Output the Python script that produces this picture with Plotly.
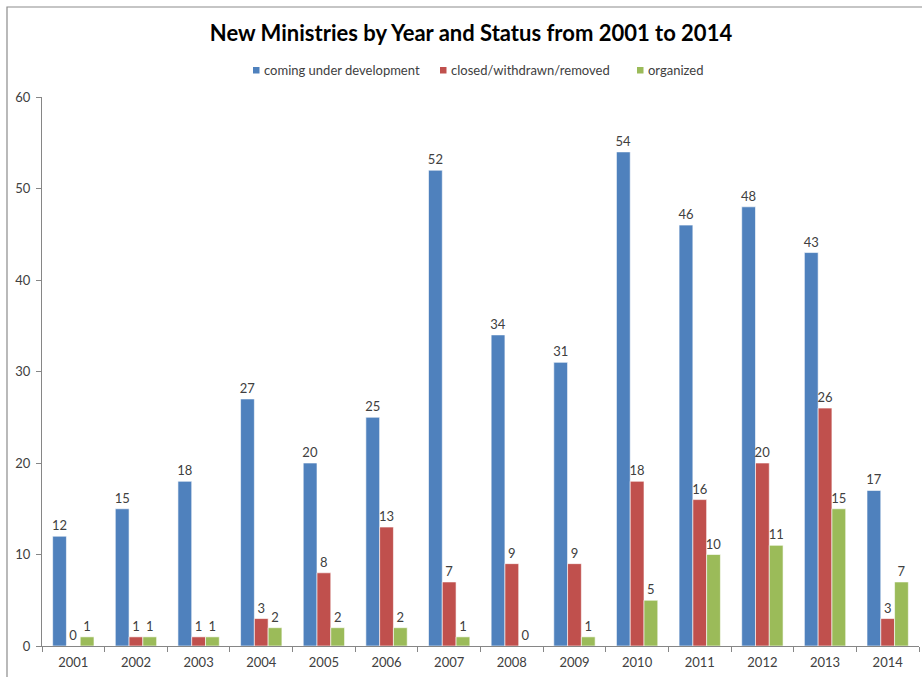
import plotly.graph_objects as go

years = ["2001", "2002", "2003", "2004", "2005", "2006", "2007",
         "2008", "2009", "2010", "2011", "2012", "2013", "2014"]
development = [12, 15, 18, 27, 20, 25, 52, 34, 31, 54, 46, 48, 43, 17]
closed = [0, 1, 1, 3, 8, 13, 7, 9, 9, 18, 16, 20, 26, 3]
organized = [1, 1, 1, 2, 2, 2, 1, 0, 1, 5, 10, 11, 15, 7]

series = [
    ("coming under development", development, "#4F81BD"),
    ("closed/withdrawn/removed", closed, "#C0504D"),
    ("organized", organized, "#9BBB59"),
]

FONT = "Lato, 'Open Sans', sans-serif"
TXT = "#404040"
W, H = 922, 677
L, R, T, B = 42, 3, 97, 31
pw, ph = W - L - R, H - T - B


def px(x):
    return (x - L) / pw


def py(y):
    return 1 - (y - T) / ph


fig = go.Figure()
for name, vals, color in series:
    fig.add_trace(go.Bar(
        x=years, y=vals, name=name,
        marker=dict(color=color, line=dict(color="white", width=0.6)),
        text=[str(v) for v in vals], textposition="outside",
        textfont=dict(family=FONT, size=13, color=TXT),
        constraintext="none",
        cliponaxis=False, showlegend=False,
    ))

# outer chart frame
fig.add_shape(type="rect", xref="paper", yref="paper",
              x0=px(7), x1=px(W + 5), y0=py(H + 5), y1=py(7),
              line=dict(color="#8c8c8c", width=1.2), layer="below")

# legend row: small colour square followed by the series name
legend_x = [253, 440, 637]
for (name, _, color), x0 in zip(series, legend_x):
    fig.add_shape(type="rect", xref="paper", yref="paper",
                  x0=px(x0), x1=px(x0 + 6.5), y0=py(73.5), y1=py(67),
                  line=dict(width=0), fillcolor=color)
    fig.add_annotation(text=name, xref="paper", yref="paper",
                       x=px(x0 + 9), y=py(70), xanchor="left", yanchor="middle",
                       showarrow=False,
                       font=dict(family=FONT, size=13, color=TXT))

fig.update_layout(
    width=W, height=H,
    margin=dict(l=L, r=R, t=T, b=B),
    paper_bgcolor="white", plot_bgcolor="white",
    barmode="group", bargap=0.34, bargroupgap=0,
    font=dict(family=FONT, color=TXT),
    title=dict(text="<b>New Ministries by Year and Status from 2001 to 2014</b>",
               x=471 / W, xref="container", xanchor="center",
               y=1 - 33 / H, yref="container", yanchor="middle",
               font=dict(family=FONT, size=22, color="black")),
    showlegend=False,
)
fig.update_yaxes(range=[0, 60], dtick=10, showgrid=False, zeroline=False,
                 showline=True, linecolor="#868686", linewidth=1,
                 ticks="outside", ticklen=5, tickcolor="#868686",
                 ticklabelstandoff=3,
                 tickfont=dict(family=FONT, size=13, color=TXT))
fig.update_xaxes(showgrid=False, showline=True, linecolor="#868686", linewidth=1,
                 ticks="outside", ticklen=5, tickcolor="#868686",
                 tickson="boundaries", ticklabelstandoff=4,
                 tickfont=dict(family=FONT, size=13, color=TXT))

fig.write_html("out.html")
